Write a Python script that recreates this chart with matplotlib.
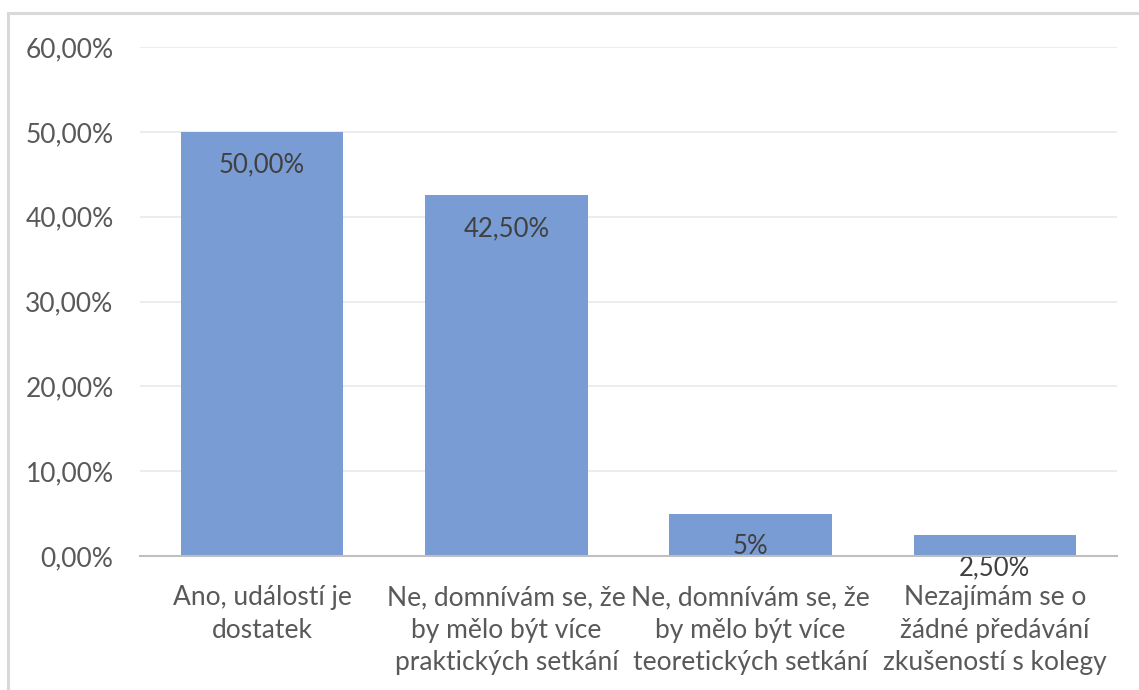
import numpy as np
import matplotlib.pyplot as plt
from matplotlib.patches import Rectangle

categories = [
    "Ano, událostí je\ndostatek",
    "Ne, domnívám se, že\nby mělo být více\npraktických setkání",
    "Ne, domnívám se, že\nby mělo být více\nteoretických setkání",
    "Nezajímám se o\nžádné předávání\nzkušeností s kolegy",
]
values = [0.50, 0.425, 0.05, 0.025]
value_labels = ["50,00%", "42,50%", "5%", "2,50%"]
yticks = [0.0, 0.1, 0.2, 0.3, 0.4, 0.5, 0.6]
ytick_labels = ["0,00%", "10,00%", "20,00%", "30,00%", "40,00%", "50,00%", "60,00%"]

plt.rcParams['font.family'] = ['Lato', 'DejaVu Sans']
text_color = "#595959"

fig = plt.figure(figsize=(11.39, 6.90), dpi=100)
ax = fig.add_axes([140 / 1139, 1 - 556 / 690, (1117 - 140) / 1139, (556 - 47) / 690])

# chart area border (only top and left visible in the crop)
fig.patches.append(Rectangle((8 / 1139, -0.1), 1.2, 1 - 13 / 690 + 0.1,
                             transform=fig.transFigure, fill=False,
                             edgecolor="#D9D9D9", linewidth=2.2))

x = np.arange(len(categories))
ax.bar(x, values, width=0.665, color="#7A9CD5", zorder=2)

for xi, v, lab in zip(x, values, value_labels):
    ax.annotate(lab, (xi, v), xytext=(0, -24), textcoords="offset points",
                ha="center", va="center", fontsize=18.5, color="#404040", zorder=3)

ax.set_xlim(-0.5, len(categories) - 0.5)
ax.set_ylim(0, 0.6)
ax.set_yticks(yticks)
ax.set_yticklabels(ytick_labels, fontsize=19, color=text_color)
ax.set_xticks(x)
ax.set_xticklabels(categories, fontsize=19, color=text_color, linespacing=1.38, va="top")
ax.tick_params(axis="y", length=0, pad=19)
ax.tick_params(axis="x", length=0, pad=21)

ax.grid(axis="y", color="#EBEBEB", linewidth=1.3, zorder=0)
for side in ["top", "right", "left"]:
    ax.spines[side].set_visible(False)
ax.spines["bottom"].set_color("#BFBFBF")
ax.spines["bottom"].set_linewidth(1.5)
ax.spines["bottom"].set_zorder(4)

fig.savefig("out.png", dpi=100)
